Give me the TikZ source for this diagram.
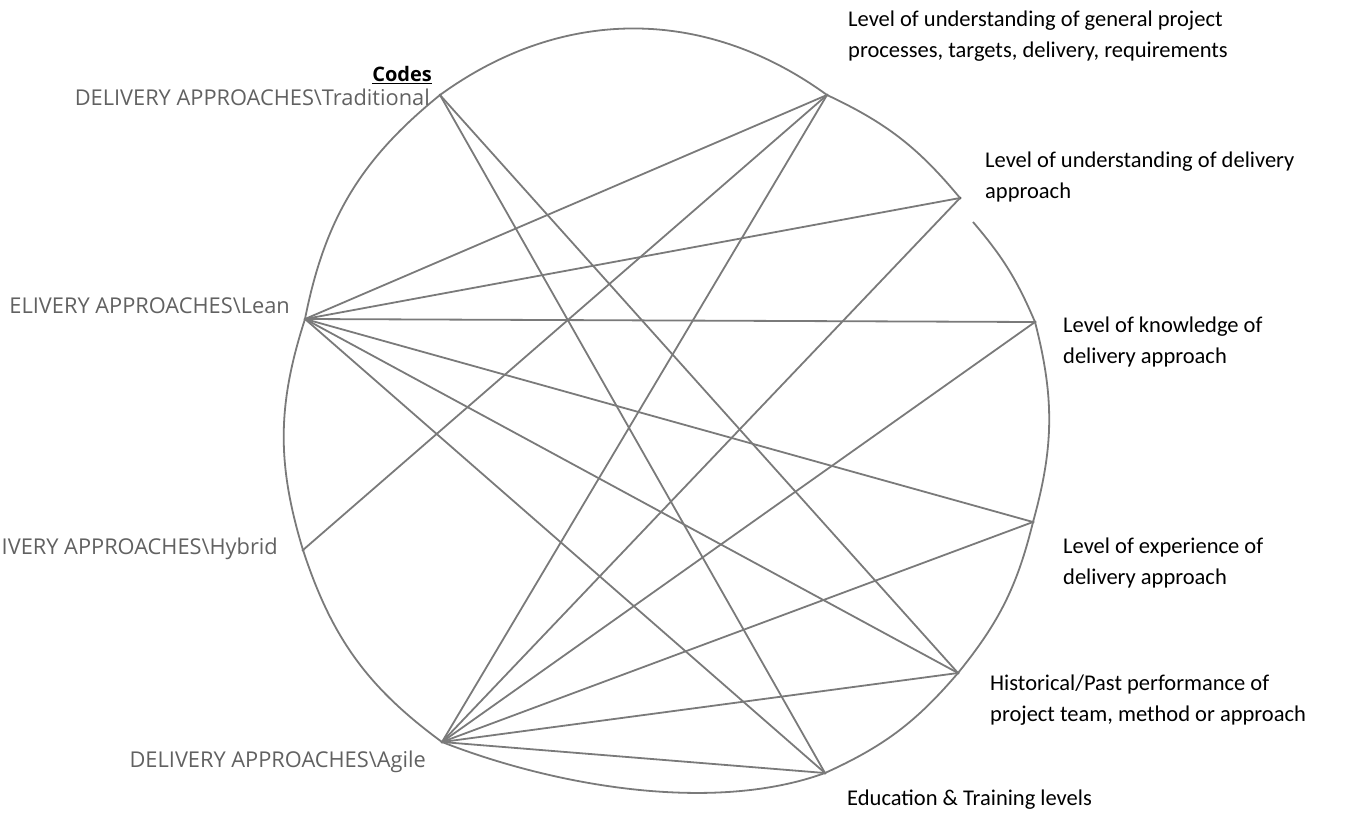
\documentclass[tikz,border=0pt]{standalone}
\usepackage{fontspec}
\setmainfont{Carlito}
\newfontfamily\segoe{Open Sans}
\begin{document}
\begin{tikzpicture}[x=1pt,y=-1pt,
  pt/.style={circle,inner sep=0pt,minimum size=3pt,fill=black!75},
  link/.style={draw=black!52,line width=1.8pt},
  rim/.style={draw=black!52,line width=1.8pt},
  rlab/.style={anchor=west,align=left,font=\fontsize{22.5}{31}\selectfont,inner sep=0pt},
  llab/.style={anchor=east,text=black!62,font=\segoe\fontsize{21.8}{24}\selectfont,inner sep=0pt}]
\useasboundingbox (0,0) rectangle (1346,814);
% anchor points on the rim
\node[pt] (T)  at (440,95)  {};
\node[pt] (Le) at (305,319) {};
\node[pt] (Hy) at (303,550) {};
\node[pt] (Ag) at (442,742) {};
\node[pt] (UG) at (827,95)  {};
\node[pt] (UD) at (960,198) {};
\node[pt] (K)  at (1035,322) {};
\node[pt] (E)  at (1033,522) {};
\node[pt] (H)  at (958,673) {};
\node[pt] (Ed) at (825,773) {};
\coordinate (rs) at (973,222);
% rim
\draw[rim] (T.center) to[bend left=36] (UG.center) to[bend left=12.6] (UD.center);
\draw[rim] (rs) to[bend left=8.7] (K.center) to[bend left=15] (E.center)
  to[bend left=12.6] (H.center) to[bend left=12.5] (Ed.center)
  to[out=200,in=338.6,looseness=0.8] (Ag.center) to[bend left=17.8] (Hy.center)
  to[bend left=17.4] (Le.center) to[bend left=19.9] (T.center);
% links
\foreach \a/\b in {T/H,T/Ed,Le/UG,Le/UD,Le/K,Le/E,Le/H,Le/Ed,Hy/UG,Ag/UG,Ag/UD,Ag/K,Ag/E,Ag/H,Ag/Ed}
  \draw[link] (\a.center) -- (\b.center);
% labels
\node[anchor=east,inner sep=0pt,font=\segoe\bfseries\fontsize{20}{24}\selectfont] (codes) at (432,75) {\underline{Codes}};
\node[llab] (lT)  at (430,97)  {DELIVERY APPROACHES\textbackslash Traditional};
\node[llab] (lLe) at (290,306) {ELIVERY APPROACHES\textbackslash Lean};
\node[llab] (lHy) at (278,549) {IVERY APPROACHES\textbackslash Hybrid};
\node[llab] (lAg) at (426,762) {DELIVERY APPROACHES\textbackslash Agile};
\node[rlab] (lUG) at (848,36)  {Level of understanding of general project\\processes, targets, delivery, requirements};
\node[rlab] (lUD) at (985,177) {Level of understanding of delivery\\approach};
\node[rlab] (lK)  at (1063,342) {Level of knowledge of\\delivery approach};
\node[rlab] (lE)  at (1063,563) {Level of experience of\\delivery approach};
\node[rlab] (lH)  at (990,700) {Historical/Past performance of\\project team, method or approach};
\node[rlab] (lEd) at (847,800) {Education \& Training levels};
\end{tikzpicture}
\end{document}
